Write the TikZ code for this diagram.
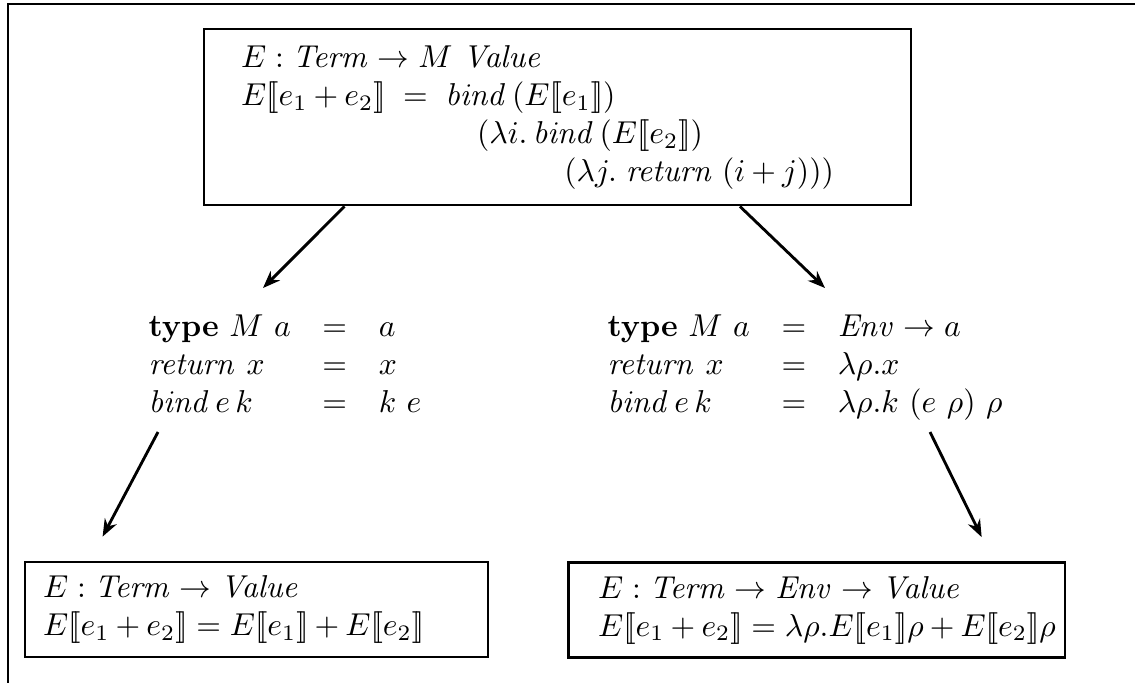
\documentclass[tikz,border=0pt]{standalone}
\usepackage{amsmath,amssymb}
\usepackage{tikz}
\usetikzlibrary{arrows.meta, calc, positioning}
\newcommand{\sem}[1]{[\![#1]\!]}
\medmuskip=3.5mu plus 2mu minus 3mu
\tikzset{
  x=0.316pt, y=-0.316pt,
  evalbox/.style={draw, line width=0.9pt, align=left, inner ysep=0pt},
  monadtext/.style={inner sep=0pt, anchor=west},
  derivline/.style={-{Stealth[length=5.5pt, width=4.2pt]}, line width=0.9pt},
  frameline/.style={line width=0.7pt}
}
\begin{document}
\begin{tikzpicture}
  \useasboundingbox (0,0) rectangle (1135,683);
  \draw[frameline] (1135,4) -- (8,4) -- (8,683);

  % monadic interpreter
  \node[evalbox, text width=200pt, inner xsep=11.7pt, minimum height=55.6pt] (monadic) at (557.5,117) {%
    $\begin{array}{@{}l@{\;\;}c@{\;\;}l@{}}
      \multicolumn{3}{@{}l}{E : \mathit{Term} \to M\ \mathit{Value}}\\
      E\sem{e_1+e_2} & = & \mathit{bind}\,(E\sem{e_1})\\
      & & \quad(\lambda i.\,\mathit{bind}\,(E\sem{e_2})\\
      & & \quad\phantom{(\lambda i.\,}\quad(\lambda j.\;\mathit{return}\;(i+j)))
    \end{array}$};

  % the two monads
  \node[monadtext] (identity) at (148,367) {%
    $\begin{array}{@{}l@{\quad}c@{\quad}l@{}}
      \textbf{type}\ M\ a & = & a\\
      \mathit{return}\ x & = & x\\
      \mathit{bind}\,e\,k & = & k\ e
    \end{array}$};
  \node[monadtext] (readerm) at (607,367) {%
    $\begin{array}{@{}l@{\quad}c@{\quad}l@{}}
      \textbf{type}\ M\ a & = & \mathit{Env} \to a\\
      \mathit{return}\ x & = & \lambda\rho.x\\
      \mathit{bind}\,e\,k & = & \lambda\rho.k\ (e\ \rho)\ \rho
    \end{array}$};

  % specialised interpreters
  \node[evalbox, text width=134.9pt, inner xsep=5.7pt, minimum height=30pt] (direct) at (256.5,609.5) {%
    \mbox{$E : \mathit{Term} \to \mathit{Value}$}\\
    \mbox{$E\sem{e_1+e_2} = E\sem{e_1} + E\sem{e_2}$}};
  \node[evalbox, text width=138pt, inner xsep=9.5pt, minimum height=30pt] (reader) at (816.5,610) {%
    \mbox{$E : \mathit{Term} \to \mathit{Env} \to \mathit{Value}$}\\
    \mbox{$E\sem{e_1+e_2} = \lambda\rho.E\sem{e_1}\rho + E\sem{e_2}\rho$}};

  \draw[derivline] ($(monadic.south west)!0.2!(monadic.south east)$) -- ($(identity.west)+(115,-79)$);
  \draw[derivline] ($(monadic.south west)!0.757!(monadic.south east)$) -- ($(readerm.west)+(218,-79)$);
  \draw[derivline] ($(identity.west)+(10,65)$) -- ($(direct.north west)+(79,-24)$);
  \draw[derivline] ($(readerm.west)+(323,65)$) -- ($(reader.north west)+(415,-24)$);
\end{tikzpicture}
\end{document}
